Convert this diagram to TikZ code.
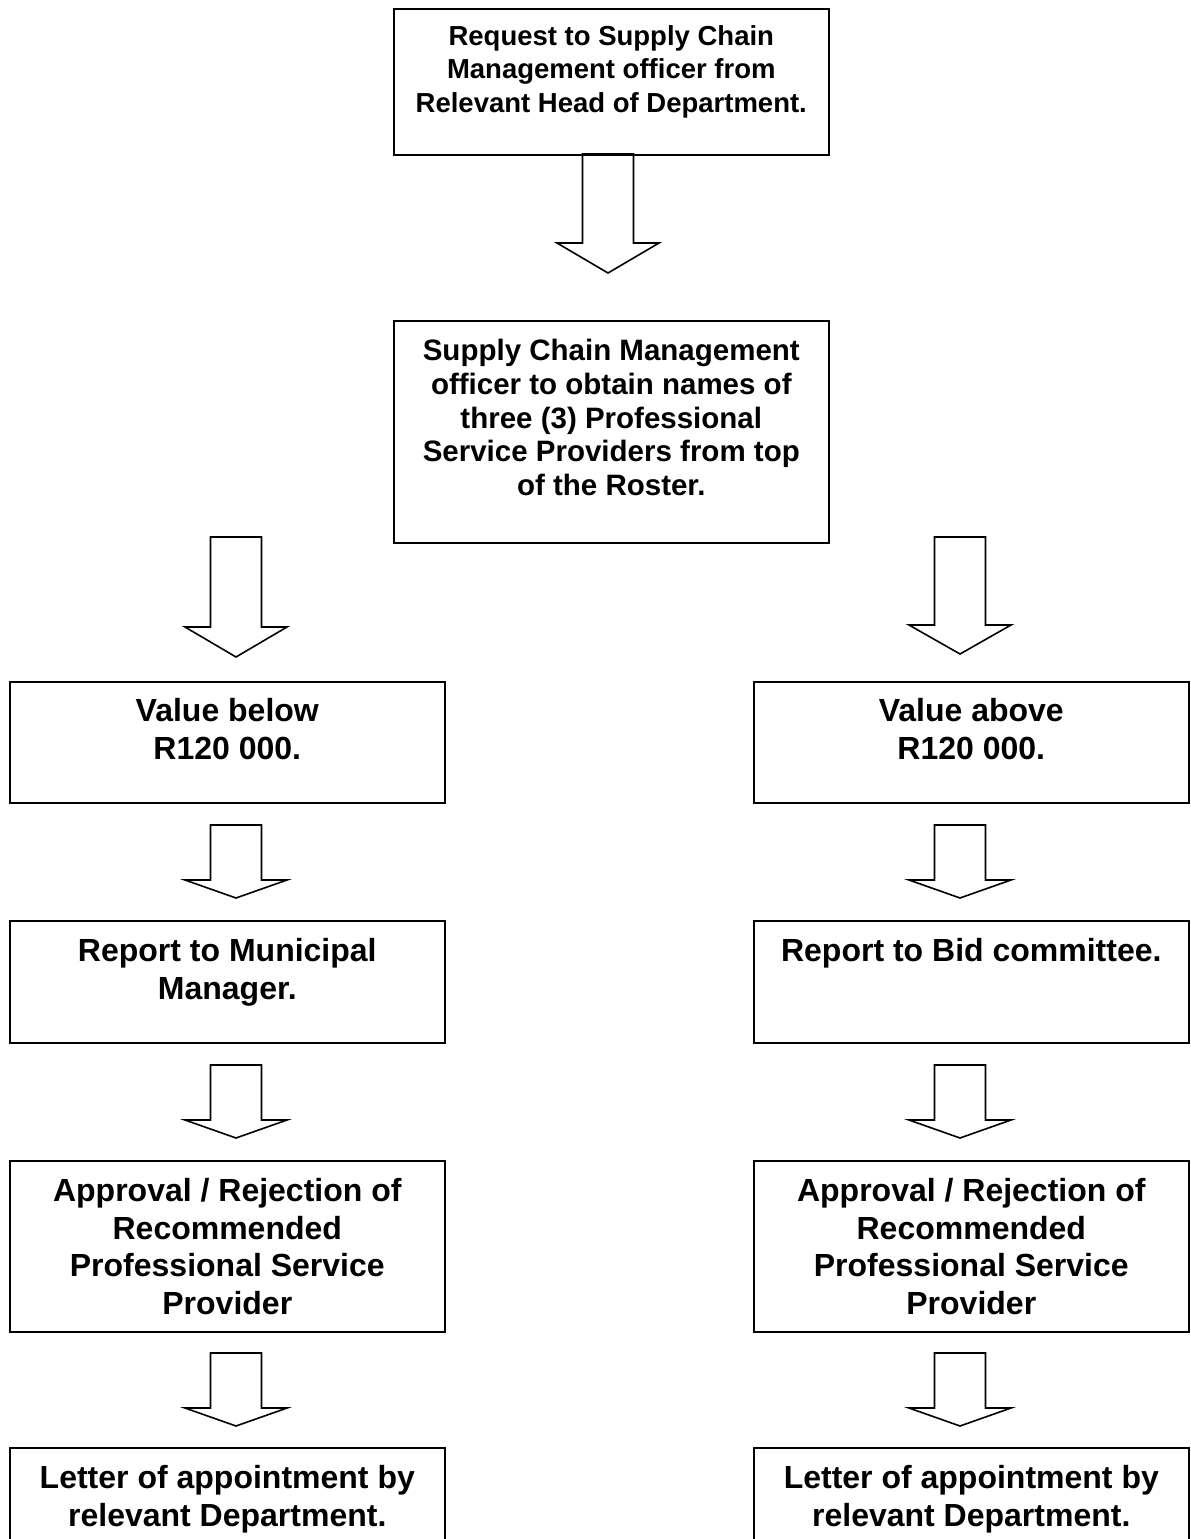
\documentclass[tikz,border=0pt]{standalone}
\usepackage{fontspec}
\setmainfont{Liberation Sans}
\usetikzlibrary{positioning}

\tikzset{
  box/.style={draw=black, line width=1.6pt, anchor=north west, minimum width=435pt, inner sep=0pt},
  txtS/.style={font=\fontsize{27.5}{33.5}\selectfont\bfseries, align=center, inner sep=0pt},
  txtM/.style={font=\fontsize{29.5}{33.8}\selectfont\bfseries, align=center, inner sep=0pt},
  txtL/.style={font=\fontsize{32}{37.5}\selectfont\bfseries, align=center, inner sep=0pt},
  arrowline/.style={draw=black, line width=1.6pt, line join=miter},
  pics/blockarrow/.style 2 args={code={
    \draw[arrowline] (-25.5,0) -- (-25.5,#1) -- (-51,#1) -- (0,#2) -- (51,#1) -- (25.5,#1) -- (25.5,0) -- cycle;
  }}
}

\begin{document}
\begin{tikzpicture}[x=1pt, y=-1pt]
\useasboundingbox (0,0) rectangle (1191,1539);
\clip (0,0) rectangle (1191,1539);

% top of the chart
\node[box, minimum height=146pt] (request) at (393,8) {};
\node[txtS, below=17pt of request.north] (requestT) {Request to Supply Chain\\Management officer from\\Relevant Head of Department.};
\node[box, minimum height=222pt] (roster) at (393,320) {};
\node[txtM, below=19pt of roster.north] (rosterT) {Supply Chain Management\\officer to obtain names of\\three (3) Professional\\Service Providers from top\\of the Roster.};

% left column
\node[box, minimum height=121pt] (belowV) at (9,681) {};
\node[txtL, below=17.5pt of belowV.north] (belowVT) {Value below\\R120 000.};
\node[box, minimum height=122pt] (reportMM) at (9,920) {};
\node[txtL, below=18.5pt of reportMM.north] (reportMMT) {Report to Municipal\\Manager.};
\node[box, minimum height=171pt] (approvalL) at (9,1160) {};
\node[txtL, below=18.5pt of approvalL.north] (approvalLT) {Approval / Rejection of\\Recommended\\Professional Service\\Provider};
\node[box, minimum height=160pt] (letterL) at (9,1447) {};
\node[txtL, below=18.5pt of letterL.north] (letterLT) {Letter of appointment by\\relevant Department.};

% right column
\node[box, minimum height=121pt] (aboveV) at (753,681) {};
\node[txtL, below=17.5pt of aboveV.north] (aboveVT) {Value above\\R120 000.};
\node[box, minimum height=122pt] (reportBC) at (753,920) {};
\node[txtL, below=18.5pt of reportBC.north] (reportBCT) {Report to Bid committee.};
\node[box, minimum height=171pt] (approvalR) at (753,1160) {};
\node[txtL, below=18.5pt of approvalR.north] (approvalRT) {Approval / Rejection of\\Recommended\\Professional Service\\Provider};
\node[box, minimum height=160pt] (letterR) at (753,1447) {};
\node[txtL, below=18.5pt of letterR.north] (letterRT) {Letter of appointment by\\relevant Department.};

% block arrows
\coordinate (a0) at (608,154);
\coordinate (aL1) at (236,537);
\coordinate (aR1) at (960,537);
\coordinate (aL2) at (236,825);
\coordinate (aR2) at (960,825);
\coordinate (aL3) at (236,1065);
\coordinate (aR3) at (960,1065);
\coordinate (aL4) at (236,1353);
\coordinate (aR4) at (960,1353);
\pic at (a0) {blockarrow={89}{119}};
\pic at (aL1) {blockarrow={90}{120}};
\pic at (aR1) {blockarrow={88}{117}};
\foreach \n in {aL2,aR2,aL3,aR3,aL4,aR4}
  \pic at (\n) {blockarrow={55}{73}};
\end{tikzpicture}
\end{document}
